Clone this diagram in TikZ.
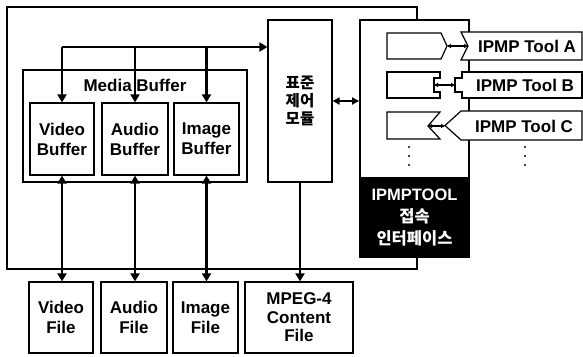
\documentclass[tikz,border=0pt]{standalone}
\usepackage{fontspec}
\setmainfont{Liberation Sans}
\newfontfamily\kr{Noto Sans CJK KR}
\usetikzlibrary{arrows.meta}
\begin{document}
\begin{tikzpicture}[x=1pt,y=-1pt,
  frame/.style={draw=black,line width=1.2pt},
  box/.style={draw=black,line width=1.2pt,fill=white,inner sep=0pt,align=center,
    font=\fontsize{17}{20}\selectfont\bfseries},
  lbl/.style={inner sep=0pt,align=center,font=\fontsize{17}{20}\selectfont\bfseries},
  thick arrow/.style={line width=2.4pt,-{Triangle[length=8pt,width=9pt]}},
  thick both/.style={line width=2.4pt,{Triangle[length=8pt,width=9pt]}-{Triangle[length=8pt,width=9pt]}},
  small both/.style={line width=1.2pt,{Triangle[length=4pt,width=4pt]}-{Triangle[length=4pt,width=4pt]}},
  mid both/.style={line width=2pt,{Triangle[length=7pt,width=7pt]}-{Triangle[length=7pt,width=7pt]}},
]
\useasboundingbox (0,0) rectangle (583,356);
% outer frame
\draw[frame] (7,7) rectangle (417,269);
% media buffer
\node[box,minimum width=224,minimum height=112] (mb) at (135,126) {};
\node[lbl] (mbt) at (135,85) {Media Buffer};
\node[box,minimum width=64,minimum height=72] (vb) at (62,139) {Video\\Buffer};
\node[box,minimum width=66,minimum height=72] (ab) at (135,139) {Audio\\Buffer};
\node[box,minimum width=65,minimum height=72] (ib) at (206.5,139) {Image\\Buffer};
% control module
\node[box,minimum width=64,minimum height=162,font=\kr\fontsize{15.5}{18}\selectfont\bfseries] (ctrl) at (300,101) {표준\\제어\\모듈};
% files
\node[box,minimum width=64,minimum height=71] (vf) at (61,317.5) {Video\\File};
\node[box,minimum width=66,minimum height=71] (af) at (134,317.5) {Audio\\File};
\node[box,minimum width=65,minimum height=71] (if) at (205.5,317.5) {Image\\File};
\node[box,minimum width=108,minimum height=71,font=\fontsize{17}{18.5}\selectfont\bfseries] (mpeg) at (299,317.5) {MPEG-4\\Content\\File};
% IPMP box
\node[box,line width=1.8pt,minimum width=109,minimum height=237] (ipmp) at (414.5,138.5) {};
\node[draw=black,fill=black,line width=1.8pt,minimum width=109,minimum height=79,inner sep=0pt,
  text=white,align=center,font=\fontsize{16.5}{22}\selectfont\bfseries] (ipif) at (414.5,217.5)
  {IPMPTOOL\\{\kr 접속}\\{\kr 인터페이스}};
% top bus
\coordinate (bus) at (62,47);
\draw[line width=2.4pt] (bus) -- (bus -| ib.north);
\draw[thick arrow] (bus -| ib.north) -- (bus -| ctrl.west);
\draw[thick arrow] (bus) -- (vb.north);
\draw[thick arrow] (bus -| ab.north) -- (ab.north);
\draw[thick arrow] (bus -| ib.north) -- (ib.north);
% bottom arrows
\draw[thick both] (vb.south) -- (vb.south |- vf.north);
\draw[thick both] (ab.south) -- (ab.south |- af.north);
\draw[thick both] (ib.south) -- (ib.south |- if.north);
\draw[thick arrow] (ctrl.south) -- (ctrl.south |- mpeg.north);
% ctrl <-> ipmp
\draw[mid both] (ctrl.east) -- (ctrl.east -| ipmp.west);
% tool A
\draw[frame,fill=white] (387,33) -- (441,33) -- (447,46) -- (441,59) -- (387,59) -- cycle;
\coordinate (pa) at (447,46);
\draw[frame,fill=white] (461,32) -- (582,32) -- (582,60) -- (461,60) -- (468,46) -- cycle;
\coordinate (ta) at (468,46);
\node[lbl] (tal) at (527,46) {IPMP Tool A};
\draw[small both] (pa) -- (ta);
% tool B
\draw[frame,fill=white] (387,72) -- (440,72) -- (440,78) -- (434,78) -- (434,92) -- (440,92) -- (440,98) -- (387,98) -- cycle;
\coordinate (pb) at (434,85);
\draw[frame,fill=white] (462,72) -- (582,72) -- (582,98) -- (462,98) -- (462,92) -- (455,92) -- (455,78) -- (462,78) -- cycle;
\coordinate (tb) at (455,85);
\node[lbl] (tbl) at (525,85) {IPMP Tool B};
\draw[small both] (pb) -- (tb);
% tool C
\draw[frame,fill=white] (387,112) -- (440,112) -- (428,126) -- (440,139) -- (387,139) -- cycle;
\coordinate (pc) at (428,126);
\draw[frame,fill=white] (461,111) -- (582,111) -- (582,140) -- (461,140) -- (445,125.5) -- cycle;
\coordinate (tc) at (445,126);
\node[lbl] (tcl) at (524,126) {IPMP Tool C};
\draw[small both] (pc) -- (tc);
% dots
\foreach \y in {147,156,165} {
  \fill (409,\y) circle (1.1);
  \fill (525,\y) circle (1.1);
}
\end{tikzpicture}
\end{document}
